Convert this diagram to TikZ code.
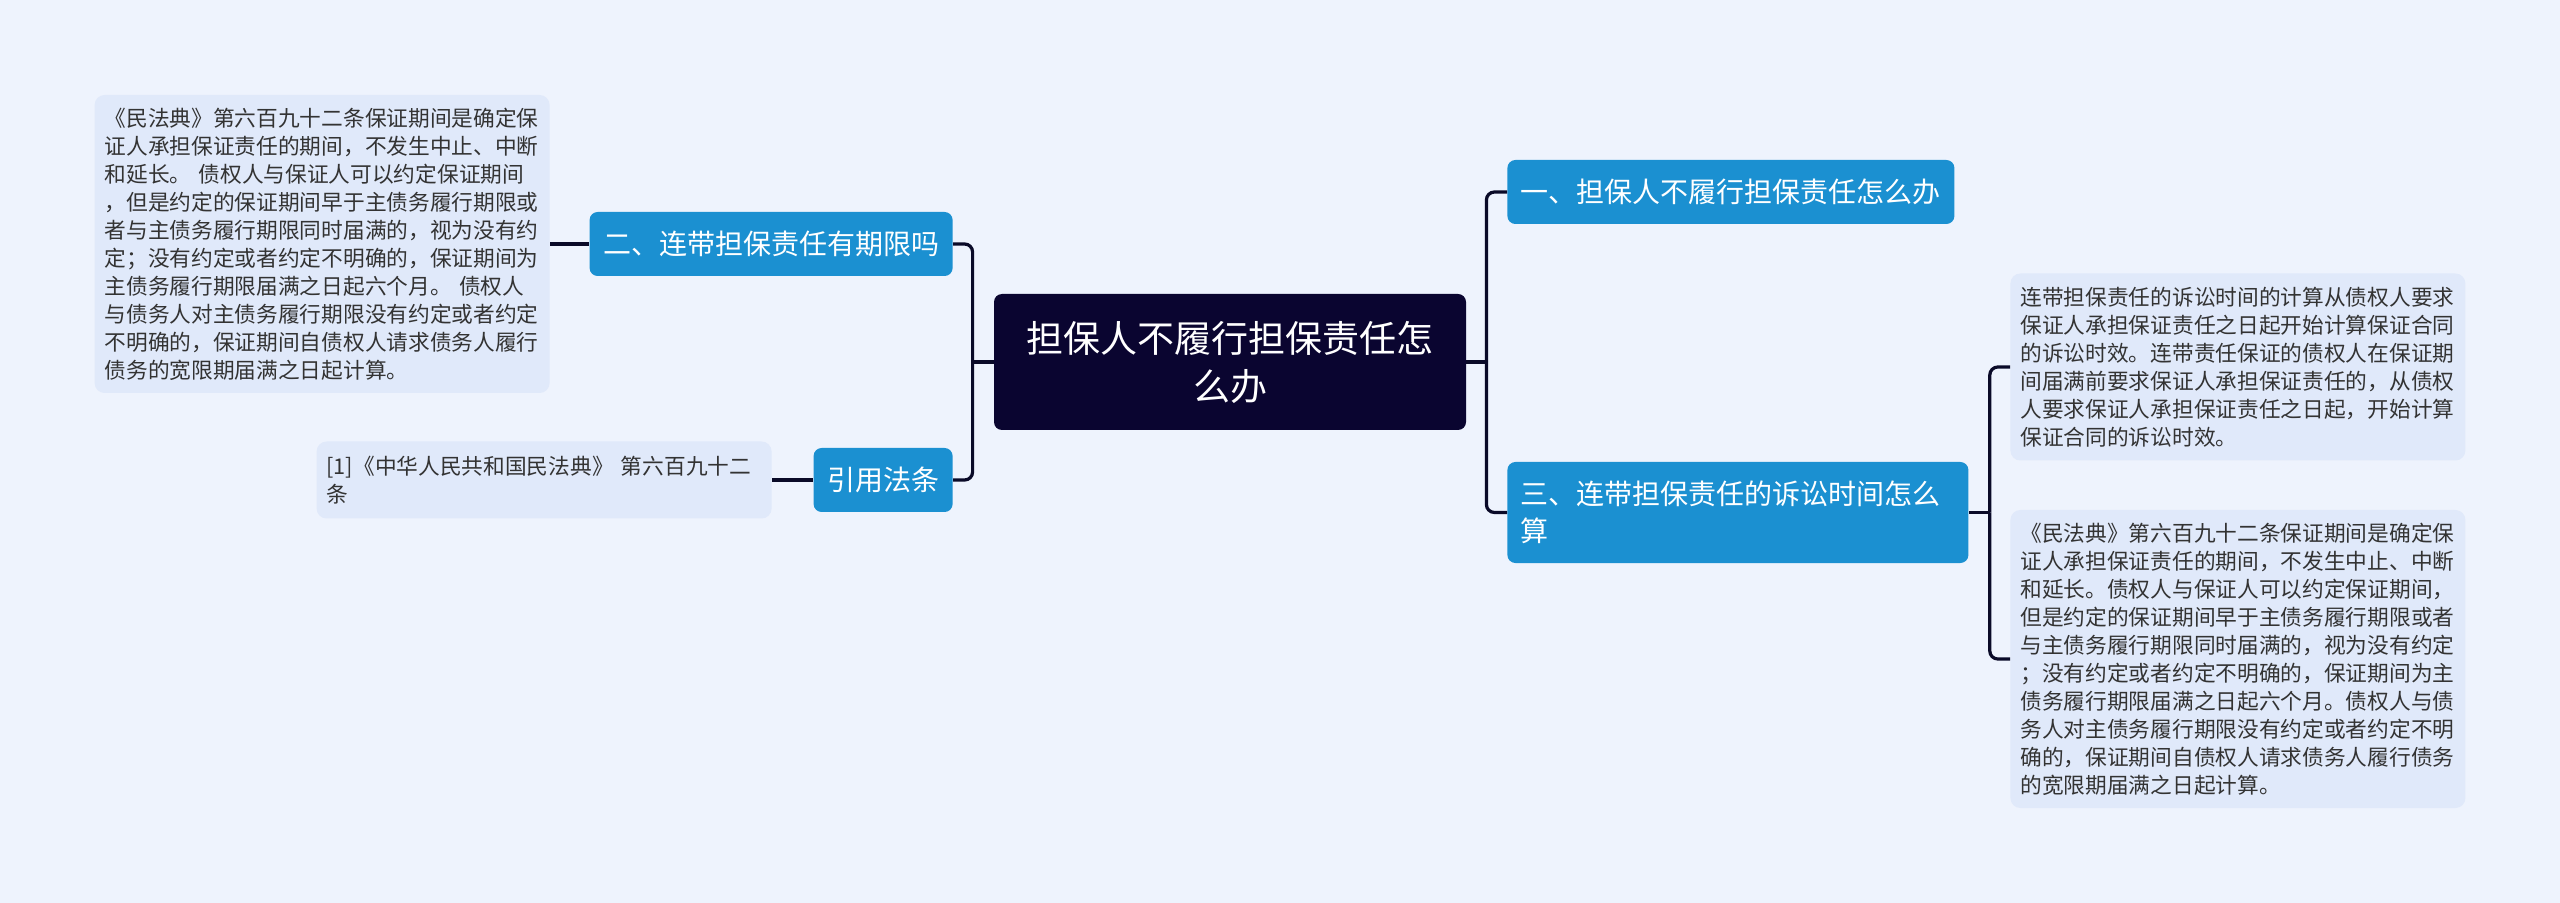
\documentclass[tikz,border=0pt]{standalone}
\usepackage{fontspec}
\setmainfont{Noto Sans CJK SC}
\usepackage{tikz}
\definecolor{pagebg}{HTML}{EEF3FD}
\definecolor{rootnavy}{HTML}{0A0530}
\definecolor{topicblue}{HTML}{1B90D1}
\definecolor{notefill}{HTML}{E0E9FA}
\definecolor{notetext}{HTML}{333333}
\definecolor{linknavy}{HTML}{0A0A28}
\tikzset{
  rootbox/.style={fill=rootnavy, rounded corners=4pt, text=white, align=center,
    font=\fontsize{18.5}{24}\selectfont, text width=204pt, inner xsep=16pt,
    minimum height=68pt},
  topicbox/.style={fill=topicblue, rounded corners=4pt, text=white, align=left,
    font=\fontsize{14}{18.5}\selectfont, inner xsep=6.75pt, minimum height=32pt},
  notebox/.style={fill=notefill, rounded corners=5pt, text=notetext, align=left,
    font=\fontsize{10.85}{14}\selectfont, text width=217.5pt, inner xsep=5pt},
  link/.style={draw=linknavy, line width=1.6pt, rounded corners=4pt}
}
\begin{document}
\begin{tikzpicture}[x=0.5pt,y=-0.5pt]
    % Background
    \fill[pagebg] (0,0) rectangle (2560,903);
    \useasboundingbox (0,0) rectangle (2560,903);

    % Central topic
    \node[rootbox] (root) at (1230,362) {担保人不履行担保责任怎\\么办};

    % Right branches
    \node[topicbox, anchor=west] (q1) at (1507,192) {一、担保人不履行担保责任怎么办};
    \node[topicbox, anchor=west, text width=217pt, minimum height=50.5pt] (q3) at (1507,512.5)
        {三、连带担保责任的诉讼时间怎么\\算};
    \node[notebox, anchor=west, minimum height=93.5pt] (n3) at (2010,367)
        {连带担保责任的诉讼时间的计算从债权人要求\\
         保证人承担保证责任之日起开始计算保证合同\\
         的诉讼时效。连带责任保证的债权人在保证期\\
         间届满前要求保证人承担保证责任的，从债权\\
         人要求保证人承担保证责任之日起，开始计算\\
         保证合同的诉讼时效。};
    \node[notebox, anchor=west, minimum height=149pt] (n4) at (2010,659)
        {《民法典》第六百九十二条保证期间是确定保\\
         证人承担保证责任的期间，不发生中止、中断\\
         和延长。债权人与保证人可以约定保证期间，\\
         但是约定的保证期间早于主债务履行期限或者\\
         与主债务履行期限同时届满的，视为没有约定\\
         ；没有约定或者约定不明确的，保证期间为主\\
         债务履行期限届满之日起六个月。债权人与债\\
         务人对主债务履行期限没有约定或者约定不明\\
         确的，保证期间自债权人请求债务人履行债务\\
         的宽限期届满之日起计算。};

    % Left branches
    \node[topicbox, anchor=east] (q2) at (953,244) {二、连带担保责任有期限吗};
    \node[topicbox, anchor=east] (cite) at (953,480) {引用法条};
    \node[notebox, anchor=east, minimum height=149pt] (n1) at (550,244)
        {《民法典》第六百九十二条保证期间是确定保\\
         证人承担保证责任的期间，不发生中止、中断\\
         和延长。 债权人与保证人可以约定保证期间\\
         ，但是约定的保证期间早于主债务履行期限或\\
         者与主债务履行期限同时届满的，视为没有约\\
         定；没有约定或者约定不明确的，保证期间为\\
         主债务履行期限届满之日起六个月。 债权人\\
         与债务人对主债务履行期限没有约定或者约定\\
         不明确的，保证期间自债权人请求债务人履行\\
         债务的宽限期届满之日起计算。};
    \node[notebox, anchor=east, minimum height=38.5pt] (n2) at (772,480)
        {[1]《中华人民共和国民法典》 第六百九十二\\条};

    % Connectors
    \coordinate (lj) at ([xshift=-10.5pt]root.west);
    \coordinate (rj) at ([xshift=10pt]root.east);
    \coordinate (q3j) at ([xshift=10.5pt]q3.east);
    \draw[link] (root.west) -- (lj);
    \draw[link] (lj) |- (q2.east);
    \draw[link] (lj) |- (cite.east);
    \draw[link] (root.east) -- (rj);
    \draw[link] (rj) |- (q1.west);
    \draw[link] (rj) |- (q3.west);
    \draw[link] (q3.east) -- (q3j);
    \draw[link] (q3j) |- (n3.west);
    \draw[link] (q3j) |- (n4.west);
    \draw[link] (q2.west) -- (n1.east);
    \draw[link] (cite.west) -- (n2.east);
\end{tikzpicture}
\end{document}
